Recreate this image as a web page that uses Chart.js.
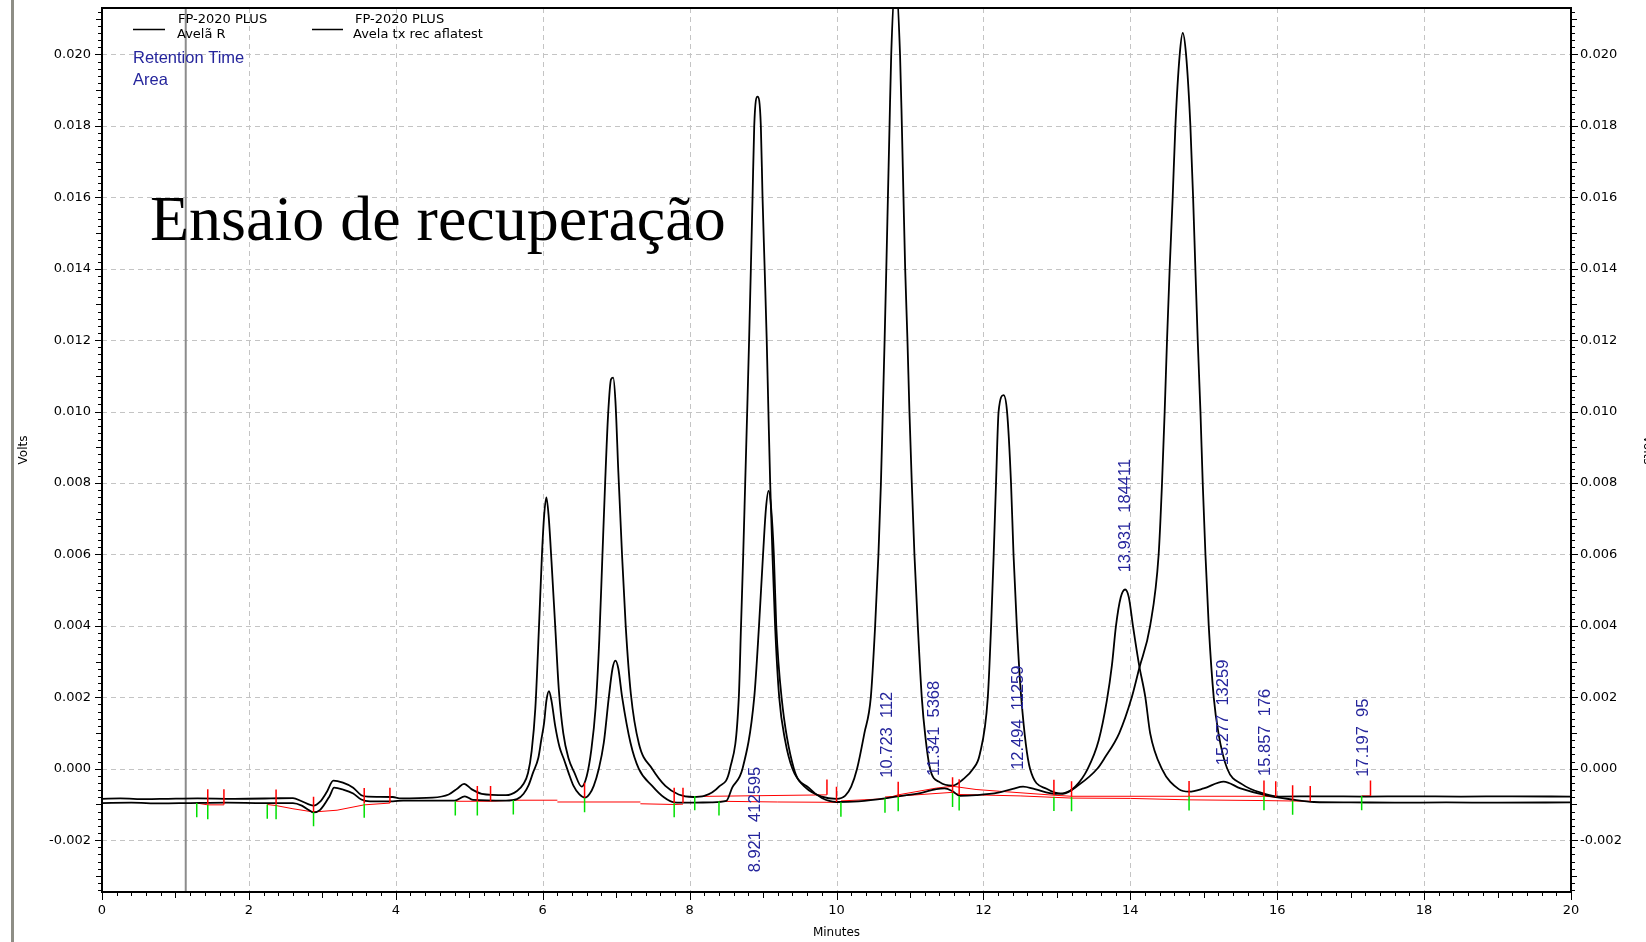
<!DOCTYPE html>
<html>
<head>
<meta charset="utf-8">
<title>Ensaio de recuperação</title>
<script src="https://cdn.jsdelivr.net/npm/chart.js@4.4.1/dist/chart.umd.min.js"></script>
<style>
  html, body { margin: 0; padding: 0; background: #fff; }
  #wrap { position: relative; width: 1646px; height: 942px; overflow: hidden; }
  #frame { position: absolute; left: 11px; top: 0; width: 3px; height: 942px; background: #8e8e86; }
  canvas { position: absolute; left: 0; top: 0; }
</style>
</head>
<body>
<div id="wrap">
  <canvas id="chromatogram" width="1646" height="942"></canvas>
  <div id="frame"></div>
</div>
<script>
// --- DATA ---
const xTickValues = [0, 2, 4, 6, 8, 10, 12, 14, 16, 18, 20];
const xTickLabels = ['0', '2', '4', '6', '8', '10', '12', '14', '16', '18', '20'];
const yTickValues = [-0.002, 0, 0.002, 0.004, 0.006, 0.008, 0.010, 0.012, 0.014, 0.016, 0.018, 0.020];
const yTickLabels = ['-0.002', '0.000', '0.002', '0.004', '0.006', '0.008', '0.010', '0.012', '0.014', '0.016', '0.018', '0.020'];

const legendTop = ['FP-2020 PLUS', 'FP-2020 PLUS'];
const legendBottom = ['Avelã R', 'Avela tx rec aflatest'];
const legendExtra = ['Retention Time', 'Area'];

// trace with the big peaks (recovery sample)
const tallTime = [0, 0.25, 0.6, 0.9, 1.3, 1.8, 2.3, 2.6, 2.72, 2.88, 2.97, 3.06, 3.15, 3.28, 3.42, 3.53, 3.62, 3.96, 4.05, 4.5, 4.72, 4.84, 4.93, 5.03, 5.17, 5.5, 5.65, 5.74, 5.8, 5.85, 5.9, 5.95, 5.99, 6.02, 6.05, 6.08, 6.12, 6.17, 6.22, 6.28, 6.35, 6.43, 6.53, 6.6, 6.66, 6.72, 6.77, 6.81, 6.85, 6.89, 6.93, 6.96, 6.99, 7.03, 7.08, 7.13, 7.2, 7.31, 7.49, 7.67, 7.85, 8.05, 8.2, 8.4, 8.55, 8.67, 8.7, 8.73, 8.757, 8.784, 8.81, 8.834, 8.857, 8.88, 8.925, 8.97, 8.993, 9.022, 9.05, 9.073, 9.097, 9.128, 9.164, 9.22, 9.3, 9.4, 9.58, 9.8, 10.0, 10.12, 10.2, 10.28, 10.38, 10.467, 10.526, 10.571, 10.605, 10.63, 10.655, 10.678, 10.7, 10.722, 10.745, 10.805, 10.865, 10.89, 10.912, 10.935, 10.966, 10.993, 11.025, 11.061, 11.107, 11.161, 11.21, 11.274, 11.41, 11.58, 11.72, 11.86, 11.95, 12.06, 12.105, 12.14, 12.172, 12.207, 12.275, 12.322, 12.376, 12.41, 12.455, 12.515, 12.635, 12.86, 13.08, 13.3, 13.55, 13.65, 13.85, 14.02, 14.12, 14.27, 14.386, 14.432, 14.468, 14.5, 14.536, 14.577, 14.614, 14.673, 14.714, 14.759, 14.818, 14.855, 14.886, 14.918, 14.955, 14.986, 15.023, 15.068, 15.136, 15.2, 15.32, 15.52, 15.84, 16.02, 16.6, 17.2, 17.8, 18.5, 19.2, 20];
const tallVolt = [-0.00084, -0.00083, -0.00085, -0.00084, -0.00083, -0.00084, -0.00083, -0.00082, -0.00091, -0.00103, -0.00092, -0.00065, -0.00033, -0.00039, -0.00053, -0.00074, -0.00078, -0.00079, -0.00083, -0.00081, -0.00072, -0.00055, -0.00042, -0.00057, -0.00070, -0.00074, -0.00062, -0.00042, -0.00012, 0.0005, 0.0017, 0.0040, 0.0060, 0.0071, 0.0076, 0.0071, 0.0058, 0.0040, 0.0022, 0.0010, 0.0003, -0.0001, -0.00050, -0.0002, 0.0005, 0.0017, 0.0036, 0.0058, 0.0080, 0.0099, 0.0109, 0.01095, 0.0103, 0.0083, 0.0060, 0.0040, 0.0021, 0.0007, 0.0000, -0.00048, -0.00072, -0.00079, -0.00076, -0.00050, 0.0000, 0.0020, 0.0040, 0.0060, 0.0080, 0.0100, 0.0120, 0.0140, 0.0160, 0.0180, 0.01882, 0.0180, 0.0160, 0.0140, 0.0120, 0.0100, 0.0080, 0.0060, 0.0040, 0.0020, 0.0008, 0.0000, -0.00053, -0.00078, -0.00084, -0.00075, -0.0005, 0.0000, 0.0010, 0.0020, 0.0040, 0.0060, 0.0080, 0.0100, 0.0120, 0.0140, 0.0160, 0.0180, 0.0200, 0.0221, 0.0200, 0.0180, 0.0160, 0.0140, 0.0120, 0.0100, 0.0080, 0.0060, 0.0040, 0.0020, 0.0009, 0.0000, -0.00038, -0.00047, -0.0003, 0.0000, 0.0004, 0.0020, 0.0040, 0.0060, 0.0080, 0.0100, 0.01046, 0.0100, 0.0080, 0.0060, 0.0040, 0.0020, 0.0000, -0.00056, -0.00070, -0.00045, 0.0000, 0.0003, 0.0010, 0.0020, 0.0028, 0.0040, 0.0060, 0.0080, 0.0100, 0.0120, 0.0140, 0.0160, 0.0180, 0.0200, 0.0206, 0.0200, 0.0180, 0.0160, 0.0140, 0.0120, 0.0100, 0.0080, 0.0060, 0.0040, 0.0020, 0.0010, 0.0000, -0.00043, -0.00071, -0.00078, -0.00077, -0.00078, -0.00077, -0.00078, -0.00077, -0.00078];

// trace with the small peaks
const smallTime = [0, 0.4, 0.8, 1.2, 1.7, 2.2, 2.6, 2.72, 2.82, 2.88, 2.97, 3.1, 3.16, 3.28, 3.42, 3.53, 3.65, 3.96, 4.1, 4.8, 4.94, 5.05, 5.5, 5.65, 5.74, 5.81, 5.87, 5.94, 5.98, 6.02, 6.05, 6.085, 6.12, 6.17, 6.23, 6.29, 6.35, 6.42, 6.5, 6.575, 6.64, 6.695, 6.764, 6.832, 6.9, 6.95, 6.99, 7.03, 7.082, 7.195, 7.309, 7.49, 7.65, 7.79, 8.0, 8.3, 8.5, 8.58, 8.72, 8.88, 8.945, 9.0, 9.04, 9.075, 9.11, 9.147, 9.18, 9.252, 9.42, 9.62, 9.8, 10.0, 10.3, 10.66, 10.84, 11.14, 11.36, 11.47, 11.58, 11.68, 11.9, 12.2, 12.4, 12.54, 12.7, 12.98, 13.1, 13.25, 13.42, 13.57, 13.68, 13.75, 13.805, 13.87, 13.93, 13.98, 14.036, 14.12, 14.205, 14.27, 14.43, 14.66, 14.8, 15.0, 15.27, 15.5, 15.84, 16.2, 16.5, 17.0, 17.6, 18.3, 19.0, 20];
const smallVolt = [-0.00096, -0.00095, -0.00097, -0.00096, -0.00095, -0.00096, -0.00096, -0.00103, -0.00116, -0.00122, -0.00115, -0.00076, -0.00053, -0.00058, -0.00069, -0.00086, -0.00091, -0.00091, -0.00089, -0.00089, -0.00077, -0.00087, -0.00089, -0.00085, -0.00070, -0.00045, -0.0001, 0.0003, 0.0008, 0.0013, 0.0019, 0.00217, 0.0019, 0.0012, 0.0006, 0.00026, -0.0001, -0.00048, -0.00072, -0.00081, -0.0007, -0.00048, 0.0000, 0.00073, 0.0020, 0.0028, 0.00303, 0.0028, 0.0020, 0.00073, 0.0000, -0.00048, -0.0008, -0.00094, -0.00095, -0.00094, -0.00090, -0.00053, 0.0000, 0.0020, 0.0040, 0.0060, 0.0073, 0.00778, 0.0073, 0.0060, 0.0040, 0.0020, 0.0000, -0.00053, -0.00082, -0.00093, -0.00091, -0.00083, -0.00077, -0.00068, -0.00057, -0.00055, -0.00063, -0.00076, -0.00074, -0.00067, -0.00056, -0.00050, -0.00057, -0.00070, -0.00068, -0.0005, 0.0000, 0.0008, 0.0019, 0.0029, 0.0040, 0.0048, 0.00502, 0.0048, 0.0040, 0.0029, 0.0020, 0.0010, 0.0000, -0.00057, -0.00064, -0.00055, -0.00036, -0.00055, -0.00074, -0.00086, -0.00093, -0.00094, -0.00095, -0.00094, -0.00095, -0.00094];

// integration baselines (null = break between segments)
const baseTime = [1.29, 1.44, 1.66, null, 2.25, 2.37, 2.6, 2.88, 3.2, 3.57, 3.92, null, 4.81, 5.29, 5.6, 6.2, null, 6.2, 7.33, null, 7.33, 7.79, 7.91, null, 7.91, 9.87, null, 8.4, 9.2, 10.06, null, 10.06, 10.66, 10.84, 11.36, 11.58, 11.9, 12.22, 12.96, 13.2, 14.8, 15.82, 15.98, null, 10.66, 11.58, 11.67, 12.5, 13.2, 14.0, 14.8, 15.82, 16.45, null, 17.15, 17.27];
const baseVolt = [-0.00096, -0.00101, -0.00101, null, -0.00100, -0.00103, -0.00112, -0.00121, -0.00116, -0.00101, -0.00096, null, -0.00091, -0.00091, -0.00088, -0.00088, null, -0.00093, -0.00093, null, -0.00098, -0.00100, -0.00099, null, -0.00078, -0.00073, null, -0.00091, -0.00093, -0.00094, null, -0.00090, -0.00084, -0.00073, -0.00054, -0.00049, -0.00058, -0.00063, -0.00074, -0.00077, -0.00077, -0.00077, -0.00079, null, -0.00079, -0.00066, -0.00072, -0.00076, -0.00082, -0.00083, -0.00087, -0.00089, -0.00091, null, -0.00076, -0.00076];

// peak start / end markers
const redTickTime = [1.44, 1.66, 2.37, 2.88, 3.57, 3.92, 5.11, 5.29, 6.57, 7.79, 7.91, 9.87, 10.0, 10.84, 11.58, 11.67, 12.96, 13.2, 14.8, 15.82, 15.98, 16.21, 16.45, 17.27];
const redTickBase = [-0.00100, -0.00100, -0.00101, -0.00121, -0.00097, -0.00096, -0.00091, -0.00091, -0.00082, -0.00096, -0.00096, -0.00073, -0.00093, -0.00079, -0.00067, -0.00072, -0.00074, -0.00078, -0.00077, -0.00076, -0.00078, -0.00089, -0.00091, -0.00076];
const greenTickTime = [1.29, 1.44, 2.25, 2.37, 2.88, 3.57, 4.81, 5.11, 5.6, 6.57, 7.79, 8.07, 8.4, 10.06, 10.66, 10.84, 11.58, 11.67, 12.96, 13.2, 14.8, 15.82, 16.21, 17.15];
const greenTickBase = [-0.00096, -0.00101, -0.00100, -0.00101, -0.00121, -0.00097, -0.00091, -0.00091, -0.00088, -0.00082, -0.00096, -0.00076, -0.00091, -0.00094, -0.00083, -0.00079, -0.00067, -0.00077, -0.00078, -0.00079, -0.00077, -0.00076, -0.00089, -0.00076];

// retention time / area annotations
const peakRetention = ['8.921', '10.723', '11.341', '12.494', '13.931', '15.277', '15.857', '17.197'];
const peakArea = ['412595', '112', '5368', '11259', '184411', '13259', '176', '95'];
const labelTime = [8.9, 10.70, 11.33, 12.48, 13.93, 15.27, 15.84, 17.18];
const labelVolt = [-0.0029, -0.00025, -0.0002, -0.00003, 0.0055, 0.0001, -0.0002, -0.00022];

const markerTime = 1.14; // grey vertical cursor line

// --- CONFIG ---
const X_MIN = 0, X_MAX = 20;
const Y_MIN = -0.00345, Y_MAX = 0.0213;
const BLUE = '#25259c';

const xy = (ts, vs) => ts.map((t, i) => ({ x: t, y: vs[i] }));

function tickSegments(times, bases, dv) {
    const pts = [];
    times.forEach((t, i) => {
        pts.push({ x: t, y: bases[i] }, { x: t, y: bases[i] + dv }, { x: t, y: null });
    });
    return pts;
}

// grid, minor ticks, frame, texts
const decorPlugin = {
    id: 'decor',
    beforeDatasetsDraw(chart) {
        const { ctx, chartArea: a, scales } = chart;
        ctx.save();
        ctx.strokeStyle = '#c4c4c4';
        ctx.lineWidth = 1;
        ctx.setLineDash([5, 4]);
        ctx.beginPath();
        xTickValues.forEach(v => {
            if (v === X_MIN || v === X_MAX) return;
            const px = Math.round(scales.x.getPixelForValue(v)) + 0.5;
            ctx.moveTo(px, a.top); ctx.lineTo(px, a.bottom);
        });
        yTickValues.forEach(v => {
            const py = Math.round(scales.y.getPixelForValue(v)) + 0.5;
            ctx.moveTo(a.left, py); ctx.lineTo(a.right, py);
        });
        ctx.stroke();
        ctx.setLineDash([]);

        // cursor line
        const mx = scales.x.getPixelForValue(markerTime);
        ctx.strokeStyle = '#8c8c8c';
        ctx.lineWidth = 2;
        ctx.beginPath();
        ctx.moveTo(mx, a.top); ctx.lineTo(mx, a.bottom);
        ctx.stroke();
        ctx.restore();
    },
    afterDraw(chart) {
        const { ctx, chartArea: a, scales } = chart;
        ctx.save();

        // frame
        ctx.strokeStyle = '#000';
        ctx.lineWidth = 2;
        ctx.strokeRect(a.left, a.top, a.right - a.left, a.bottom - a.top);

        // axis tick marks (major / half / minor)
        ctx.lineWidth = 1;
        ctx.beginPath();
        for (let k = Math.ceil(Y_MIN / 0.0002); k * 0.0002 <= Y_MAX; k++) {
            const py = Math.round(scales.y.getPixelForValue(k * 0.0002)) + 0.5;
            const len = k % 10 === 0 ? 7 : (k % 5 === 0 ? 6 : 4);
            ctx.moveTo(a.left - len, py); ctx.lineTo(a.left, py);
            ctx.moveTo(a.right, py); ctx.lineTo(a.right + len, py);
        }
        for (let k = 0; k <= 100; k++) {
            const px = Math.round(scales.x.getPixelForValue(k * 0.2)) + 0.5;
            const len = k % 10 === 0 ? 8 : (k % 5 === 0 ? 6 : 4);
            ctx.moveTo(px, a.bottom); ctx.lineTo(px, a.bottom + len);
        }
        ctx.stroke();

        // axis titles
        ctx.fillStyle = '#000';
        ctx.font = '12px "DejaVu Sans"';
        ctx.textAlign = 'center';
        ctx.textBaseline = 'middle';
        ctx.fillText('Minutes', (a.left + a.right) / 2, 933);
        ctx.save();
        ctx.translate(24, 450);
        ctx.rotate(-Math.PI / 2);
        ctx.fillText('Volts', 0, 0);
        ctx.restore();
        ctx.save();
        ctx.translate(1647, 450);
        ctx.rotate(Math.PI / 2);
        ctx.fillText('Volts', 0, 0);
        ctx.restore();

        // legend
        ctx.strokeStyle = '#000';
        ctx.lineWidth = 1.5;
        ctx.beginPath();
        ctx.moveTo(133, 29.5); ctx.lineTo(165, 29.5);
        ctx.moveTo(312, 29.5); ctx.lineTo(343, 29.5);
        ctx.stroke();
        ctx.font = '13px "DejaVu Sans"';
        ctx.textAlign = 'left';
        ctx.fillText(legendTop[0], 178, 20);
        ctx.fillText(legendBottom[0], 177, 35);
        ctx.fillText(legendTop[1], 355, 20);
        ctx.fillText(legendBottom[1], 353, 35);

        ctx.fillStyle = BLUE;
        ctx.font = '16.5px "Liberation Sans"';
        ctx.fillText(legendExtra[0], 133, 58);
        ctx.fillText(legendExtra[1], 133, 80.5);

        // peak annotations
        ctx.font = '16.5px "Liberation Sans"';
        peakRetention.forEach((rt, i) => {
            const px = scales.x.getPixelForValue(labelTime[i]);
            const py = scales.y.getPixelForValue(labelVolt[i]);
            ctx.save();
            ctx.translate(px, py);
            ctx.rotate(-Math.PI / 2);
            ctx.fillText(rt + '  ' + peakArea[i], 0, 0);
            ctx.restore();
        });

        // title
        ctx.fillStyle = '#000';
        ctx.font = '64px "Liberation Serif"';
        ctx.textBaseline = 'alphabetic';
        ctx.fillText('Ensaio de recuperação', 150, 240);
        ctx.restore();
    }
};

// keep the plot area exactly where the reference has it
function fixBox(size, vertical) {
    return (scale) => {
        if (vertical) scale.width = size; else scale.height = size;
        scale.paddingTop = 0; scale.paddingBottom = 0;
        scale.paddingLeft = 0; scale.paddingRight = 0;
    };
}

const yScaleBase = {
    type: 'linear',
    min: Y_MIN,
    max: Y_MAX,
    grid: { display: false, drawTicks: false },
    border: { display: false },
    afterBuildTicks: (scale) => { scale.ticks = yTickValues.map(v => ({ value: v })); },
    ticks: {
        autoSkip: false,
        color: '#000',
        font: { family: 'DejaVu Sans', size: 13 },
        callback: (v, i) => yTickLabels[i]
    }
};

new Chart(document.getElementById('chromatogram'), {
    type: 'line',
    data: {
        datasets: [
            { label: 'red ticks', data: tickSegments(redTickTime, redTickBase, 0.00043), borderColor: '#ff0000', borderWidth: 1.5, pointRadius: 0, tension: 0, spanGaps: false },
            { label: 'green ticks', data: tickSegments(greenTickTime, greenTickBase, -0.0004), borderColor: '#00e000', borderWidth: 1.5, pointRadius: 0, tension: 0, spanGaps: false },
            { label: legendBottom[1], data: xy(tallTime, tallVolt), borderColor: '#000', borderWidth: 1.8, pointRadius: 0, cubicInterpolationMode: 'monotone' },
            { label: legendBottom[0], data: xy(smallTime, smallVolt), borderColor: '#000', borderWidth: 1.8, pointRadius: 0, cubicInterpolationMode: 'monotone' },
            { label: 'baseline', data: xy(baseTime, baseVolt), borderColor: '#ff0000', borderWidth: 1, pointRadius: 0, tension: 0, spanGaps: false }
        ]
    },
    options: {
        responsive: false,
        animation: false,
        devicePixelRatio: 1,
        layout: { padding: { top: 8, left: 0, right: 0, bottom: 0 } },
        plugins: { legend: { display: false }, tooltip: { enabled: false } },
        scales: {
            x: {
                type: 'linear',
                min: X_MIN,
                max: X_MAX,
                grid: { display: false, drawTicks: false },
                border: { display: false },
                afterBuildTicks: (scale) => { scale.ticks = xTickValues.map(v => ({ value: v })); },
                afterFit: fixBox(50, false),
                ticks: {
                    autoSkip: false,
                    maxRotation: 0,
                    padding: 11,
                    color: '#000',
                    font: { family: 'DejaVu Sans', size: 13 },
                    callback: (v, i) => xTickLabels[i]
                }
            },
            y: Object.assign({}, yScaleBase, {
                position: 'left',
                afterFit: fixBox(102, true),
                ticks: Object.assign({}, yScaleBase.ticks, { padding: 11 })
            }),
            y2: Object.assign({}, yScaleBase, {
                position: 'right',
                afterFit: fixBox(75, true),
                ticks: Object.assign({}, yScaleBase.ticks, { padding: 9 })
            })
        }
    },
    plugins: [decorPlugin]
});
</script>
</body>
</html>
